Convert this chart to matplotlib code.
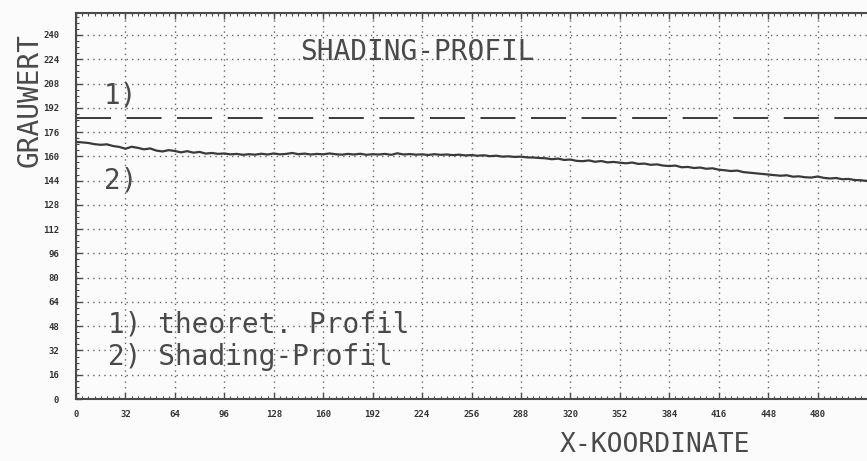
import numpy as np
import matplotlib
matplotlib.use("Agg")
import matplotlib.pyplot as plt
from matplotlib.ticker import MultipleLocator

# ---- data ----
x_ticks = [0, 32, 64, 96, 128, 160, 192, 224, 256, 288, 320, 352, 384, 416, 448, 480]
y_ticks = [0, 16, 32, 48, 64, 80, 96, 112, 128, 144, 160, 176, 192, 208, 224, 240]
theoret_level = 185
shading_x = list(range(0, 513, 4))
shading_y = [169.5, 169.2, 168.8, 168.0, 167.6, 167.9, 166.8, 166.2, 165.0, 166.3,
             165.6, 164.6, 165.2, 163.8, 163.2, 164.1, 163.5, 162.6, 163.4, 162.4,
             162.9, 161.8, 162.2, 161.6, 161.9, 161.3, 161.6, 161.0, 161.4, 161.1,
             161.7, 161.2, 161.9, 161.3, 161.6, 162.2, 161.4, 161.8, 161.2, 161.6,
             161.3, 161.9, 161.4, 161.1, 161.6, 161.2, 161.7, 161.0, 161.4, 161.2,
             161.6, 161.0, 162.0, 161.2, 161.5, 161.1, 161.3, 160.9, 161.4, 161.0,
             161.2, 160.8, 161.1, 160.6, 160.8, 160.4, 160.7, 160.1, 160.4, 159.8,
             160.0, 159.6, 159.8, 159.3, 159.2, 158.9, 158.7, 158.1, 158.5, 157.6,
             157.9, 157.0, 156.8, 157.3, 156.4, 156.9, 156.0, 156.3, 155.8, 155.4,
             155.9, 155.0, 155.2, 154.4, 154.7, 153.9, 153.6, 153.9, 152.8, 153.0,
             152.3, 152.6, 151.8, 152.1, 151.2, 150.8, 150.3, 150.6, 149.6, 149.2,
             148.8, 148.4, 148.0, 147.6, 147.2, 147.5, 146.6, 146.8, 146.2, 146.0,
             146.7, 145.8, 145.4, 145.7, 144.9, 145.1, 144.4, 144.2, 143.8]

ink = "#4a4a4a"
bg = "#fbfbfb"
mono = "DejaVu Sans Mono"

fig = plt.figure(figsize=(8.67, 4.61), dpi=100, facecolor=bg)
ax = fig.add_axes([76 / 867, 62 / 461, 1 - 76 / 867, (399 - 13) / 461])
ax.set_facecolor(bg)
ax.set_xlim(0, 512)
ax.set_ylim(0, 254.5)

ax.set_xticks(x_ticks)
ax.set_yticks(y_ticks)
ax.set_xticklabels([str(v) for v in x_ticks], fontsize=6.5, fontweight="bold",
                   color="#333333", family=mono)
ax.set_yticklabels([str(v) for v in y_ticks], fontsize=6.5, fontweight="bold",
                   color="#333333", family=mono)
ax.xaxis.set_minor_locator(MultipleLocator(4))
ax.yaxis.set_minor_locator(MultipleLocator(4))
ax.tick_params(which="major", direction="in", length=4, width=1, color=ink,
               top=True, right=False)
ax.tick_params(which="minor", direction="in", length=2, width=0.8, color=ink,
               top=True, right=False)
ax.tick_params(axis="x", pad=8)
ax.tick_params(axis="y", pad=12)

for s in ["left", "bottom", "top"]:
    ax.spines[s].set_color(ink)
    ax.spines[s].set_linewidth(1.5)
ax.spines["right"].set_visible(False)

ax.grid(True, which="major", color="#666666", linestyle=(0, (1, 3)), linewidth=1.0)

ax.axhline(theoret_level, color="#3a3a3a", linewidth=1.4, linestyle=(0, (18, 8)))
ax.plot(shading_x, shading_y, color="#3a3a3a", linewidth=1.6)

tk = dict(family=mono, fontsize=20, color=ink)
ax.text(145, 229, "SHADING-PROFIL", ha="left", va="center", **tk)
ax.text(18, 200, "1)", ha="left", va="center", **tk)
ax.text(18, 144, "2)", ha="left", va="center", **tk)
ax.text(21, 49, "1) theoret. Profil", ha="left", va="center", **tk)
ax.text(21, 28, "2) Shading-Profil", ha="left", va="center", **tk)

fig.text(655 / 867, 1 - 445 / 461, "X-KOORDINATE", ha="center", va="center",
         family=mono, fontsize=19, color=ink)
fig.text(30 / 867, 1 - 100 / 461, "GRAUWERT", ha="center", va="center", rotation=90, **tk)

fig.savefig("out.png", dpi=100, facecolor=bg)
